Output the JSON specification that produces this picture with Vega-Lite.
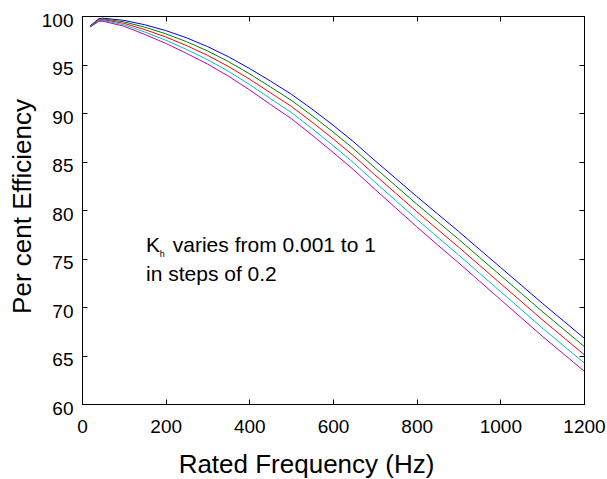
{
  "$schema": "https://vega.github.io/schema/vega-lite/v6.json",
  "width": 502,
  "height": 388,
  "autosize": "none",
  "padding": {"left": 82, "top": 16, "right": 23, "bottom": 75},
  "background": "white",
  "config": {
    "font": "Liberation Sans",
    "view": {"stroke": "black", "strokeWidth": 1},
    "axis": {
      "grid": false,
      "domainColor": "black",
      "tickColor": "black",
      "labelColor": "black",
      "titleColor": "black",
      "labelFont": "Liberation Sans",
      "titleFont": "Liberation Sans",
      "labelFontSize": 19,
      "titleFontSize": 26,
      "titleFontWeight": "normal",
      "tickSize": -5,
      "labelFlush": false,
      "labelOverlap": false,
      "format": "d"
    }
  },
  "datasets": {
    "curves": [
      {"f": 20, "s": "blue", "eff": 99.0}, {"f": 20, "s": "green", "eff": 98.97}, {"f": 20, "s": "red", "eff": 98.94}, {"f": 20, "s": "cyan", "eff": 98.91}, {"f": 20, "s": "magenta", "eff": 98.88},
      {"f": 40, "s": "blue", "eff": 99.72}, {"f": 40, "s": "green", "eff": 99.65}, {"f": 40, "s": "red", "eff": 99.58}, {"f": 40, "s": "cyan", "eff": 99.51}, {"f": 40, "s": "magenta", "eff": 99.44},
      {"f": 50, "s": "blue", "eff": 99.78}, {"f": 50, "s": "green", "eff": 99.70}, {"f": 50, "s": "red", "eff": 99.62}, {"f": 50, "s": "cyan", "eff": 99.54}, {"f": 50, "s": "magenta", "eff": 99.46},
      {"f": 100, "s": "blue", "eff": 99.55}, {"f": 100, "s": "green", "eff": 99.40}, {"f": 100, "s": "red", "eff": 99.25}, {"f": 100, "s": "cyan", "eff": 99.10}, {"f": 100, "s": "magenta", "eff": 98.95},
      {"f": 150, "s": "blue", "eff": 99.10}, {"f": 150, "s": "green", "eff": 98.85}, {"f": 150, "s": "red", "eff": 98.60}, {"f": 150, "s": "cyan", "eff": 98.35}, {"f": 150, "s": "magenta", "eff": 98.10},
      {"f": 200, "s": "blue", "eff": 98.50}, {"f": 200, "s": "green", "eff": 98.17}, {"f": 200, "s": "red", "eff": 97.84}, {"f": 200, "s": "cyan", "eff": 97.51}, {"f": 200, "s": "magenta", "eff": 97.18},
      {"f": 250, "s": "blue", "eff": 97.75}, {"f": 250, "s": "green", "eff": 97.35}, {"f": 250, "s": "red", "eff": 96.95}, {"f": 250, "s": "cyan", "eff": 96.55}, {"f": 250, "s": "magenta", "eff": 96.15},
      {"f": 300, "s": "blue", "eff": 96.85}, {"f": 300, "s": "green", "eff": 96.40}, {"f": 300, "s": "red", "eff": 95.95}, {"f": 300, "s": "cyan", "eff": 95.50}, {"f": 300, "s": "magenta", "eff": 95.05},
      {"f": 350, "s": "blue", "eff": 95.80}, {"f": 350, "s": "green", "eff": 95.30}, {"f": 350, "s": "red", "eff": 94.80}, {"f": 350, "s": "cyan", "eff": 94.30}, {"f": 350, "s": "magenta", "eff": 93.80},
      {"f": 400, "s": "blue", "eff": 94.60}, {"f": 400, "s": "green", "eff": 94.05}, {"f": 400, "s": "red", "eff": 93.50}, {"f": 400, "s": "cyan", "eff": 92.95}, {"f": 400, "s": "magenta", "eff": 92.40},
      {"f": 450, "s": "blue", "eff": 93.30}, {"f": 450, "s": "green", "eff": 92.70}, {"f": 450, "s": "red", "eff": 92.10}, {"f": 450, "s": "cyan", "eff": 91.50}, {"f": 450, "s": "magenta", "eff": 90.90},
      {"f": 500, "s": "blue", "eff": 91.95}, {"f": 500, "s": "green", "eff": 91.32}, {"f": 500, "s": "red", "eff": 90.69}, {"f": 500, "s": "cyan", "eff": 90.06}, {"f": 500, "s": "magenta", "eff": 89.43},
      {"f": 550, "s": "blue", "eff": 90.40}, {"f": 550, "s": "green", "eff": 89.73}, {"f": 550, "s": "red", "eff": 89.06}, {"f": 550, "s": "cyan", "eff": 88.39}, {"f": 550, "s": "magenta", "eff": 87.72},
      {"f": 600, "s": "blue", "eff": 88.75}, {"f": 600, "s": "green", "eff": 88.05}, {"f": 600, "s": "red", "eff": 87.35}, {"f": 600, "s": "cyan", "eff": 86.65}, {"f": 600, "s": "magenta", "eff": 85.95},
      {"f": 650, "s": "blue", "eff": 87.00}, {"f": 650, "s": "green", "eff": 86.28}, {"f": 650, "s": "red", "eff": 85.56}, {"f": 650, "s": "cyan", "eff": 84.84}, {"f": 650, "s": "magenta", "eff": 84.12},
      {"f": 700, "s": "blue", "eff": 85.10}, {"f": 700, "s": "green", "eff": 84.36}, {"f": 700, "s": "red", "eff": 83.62}, {"f": 700, "s": "cyan", "eff": 82.88}, {"f": 700, "s": "magenta", "eff": 82.14},
      {"f": 750, "s": "blue", "eff": 83.25}, {"f": 750, "s": "green", "eff": 82.49}, {"f": 750, "s": "red", "eff": 81.73}, {"f": 750, "s": "cyan", "eff": 80.97}, {"f": 750, "s": "magenta", "eff": 80.21},
      {"f": 800, "s": "blue", "eff": 81.40}, {"f": 800, "s": "green", "eff": 80.62}, {"f": 800, "s": "red", "eff": 79.84}, {"f": 800, "s": "cyan", "eff": 79.06}, {"f": 800, "s": "magenta", "eff": 78.28},
      {"f": 850, "s": "blue", "eff": 79.60}, {"f": 850, "s": "green", "eff": 78.80}, {"f": 850, "s": "red", "eff": 78.00}, {"f": 850, "s": "cyan", "eff": 77.20}, {"f": 850, "s": "magenta", "eff": 76.40},
      {"f": 900, "s": "blue", "eff": 77.80}, {"f": 900, "s": "green", "eff": 76.99}, {"f": 900, "s": "red", "eff": 76.18}, {"f": 900, "s": "cyan", "eff": 75.37}, {"f": 900, "s": "magenta", "eff": 74.56},
      {"f": 950, "s": "blue", "eff": 75.95}, {"f": 950, "s": "green", "eff": 75.13}, {"f": 950, "s": "red", "eff": 74.31}, {"f": 950, "s": "cyan", "eff": 73.49}, {"f": 950, "s": "magenta", "eff": 72.67},
      {"f": 1000, "s": "blue", "eff": 74.10}, {"f": 1000, "s": "green", "eff": 73.27}, {"f": 1000, "s": "red", "eff": 72.44}, {"f": 1000, "s": "cyan", "eff": 71.61}, {"f": 1000, "s": "magenta", "eff": 70.78},
      {"f": 1050, "s": "blue", "eff": 72.25}, {"f": 1050, "s": "green", "eff": 71.41}, {"f": 1050, "s": "red", "eff": 70.57}, {"f": 1050, "s": "cyan", "eff": 69.73}, {"f": 1050, "s": "magenta", "eff": 68.89},
      {"f": 1100, "s": "blue", "eff": 70.40}, {"f": 1100, "s": "green", "eff": 69.55}, {"f": 1100, "s": "red", "eff": 68.70}, {"f": 1100, "s": "cyan", "eff": 67.85}, {"f": 1100, "s": "magenta", "eff": 67.00},
      {"f": 1150, "s": "blue", "eff": 68.60}, {"f": 1150, "s": "green", "eff": 67.75}, {"f": 1150, "s": "red", "eff": 66.90}, {"f": 1150, "s": "cyan", "eff": 66.05}, {"f": 1150, "s": "magenta", "eff": 65.20},
      {"f": 1200, "s": "blue", "eff": 66.80}, {"f": 1200, "s": "green", "eff": 65.95}, {"f": 1200, "s": "red", "eff": 65.10}, {"f": 1200, "s": "cyan", "eff": 64.25}, {"f": 1200, "s": "magenta", "eff": 63.40}
    ],
    "notes": [
      {"part": "K", "f": 153, "eff": 75.67},
      {"part": "varies from 0.001 to 1", "f": 217, "eff": 75.67},
      {"part": "in steps of 0.2", "f": 153, "eff": 72.68}
    ],
    "subs": [
      {"part": "h", "f": 186, "eff": 75.12}
    ]
  },
  "layer": [
    {
      "data": {"name": "curves"},
      "mark": {"type": "line", "strokeWidth": 1, "clip": true},
      "encoding": {
        "x": {
          "field": "f", "type": "quantitative",
          "scale": {"domain": [0, 1200], "nice": false, "zero": false},
          "axis": {
            "orient": "bottom", "values": [0, 200, 400, 600, 800, 1000, 1200],
            "title": "Rated Frequency (Hz)", "labelBaseline": "alphabetic", "labelPadding": 33,
            "titleX": 224, "titleY": 68, "titleAlign": "center", "titleBaseline": "alphabetic"
          }
        },
        "y": {
          "field": "eff", "type": "quantitative",
          "scale": {"domain": [60, 100], "nice": false, "zero": false},
          "axis": {
            "orient": "left", "values": [60, 65, 70, 75, 80, 85, 90, 95, 100],
            "title": "Per cent Efficiency", "labelPadding": 14, "labelOffset": 4,
            "titleX": -52, "titleY": 190, "titleAngle": -90, "titleAlign": "center", "titleBaseline": "alphabetic"
          }
        },
        "color": {
          "field": "s", "type": "nominal", "legend": null,
          "scale": {"domain": ["blue", "green", "red", "cyan", "magenta"], "range": ["#0000FF", "#008000", "#FF0000", "#00BFBF", "#BF00BF"]}
        }
      }
    },
    {
      "data": {"name": "curves"},
      "mark": {"type": "line", "opacity": 0},
      "encoding": {
        "x": {"field": "f", "type": "quantitative", "axis": {"orient": "top", "values": [0, 200, 400, 600, 800, 1000, 1200], "labels": false, "title": null}},
        "y": {"field": "eff", "type": "quantitative", "axis": {"orient": "right", "values": [60, 65, 70, 75, 80, 85, 90, 95, 100], "labels": false, "title": null}},
        "detail": {"field": "s"}
      }
    },
    {
      "data": {"name": "notes"},
      "mark": {"type": "text", "align": "left", "baseline": "alphabetic", "fontSize": 21, "font": "Liberation Sans", "color": "black"},
      "encoding": {
        "x": {"field": "f", "type": "quantitative", "axis": null},
        "y": {"field": "eff", "type": "quantitative", "axis": null},
        "text": {"field": "part"}
      }
    },
    {
      "data": {"name": "subs"},
      "mark": {"type": "text", "align": "left", "baseline": "alphabetic", "fontSize": 9, "font": "Liberation Sans", "color": "black"},
      "encoding": {
        "x": {"field": "f", "type": "quantitative", "axis": null},
        "y": {"field": "eff", "type": "quantitative", "axis": null},
        "text": {"field": "part"}
      }
    }
  ],
  "resolve": {"axis": {"x": "independent", "y": "independent"}}
}
